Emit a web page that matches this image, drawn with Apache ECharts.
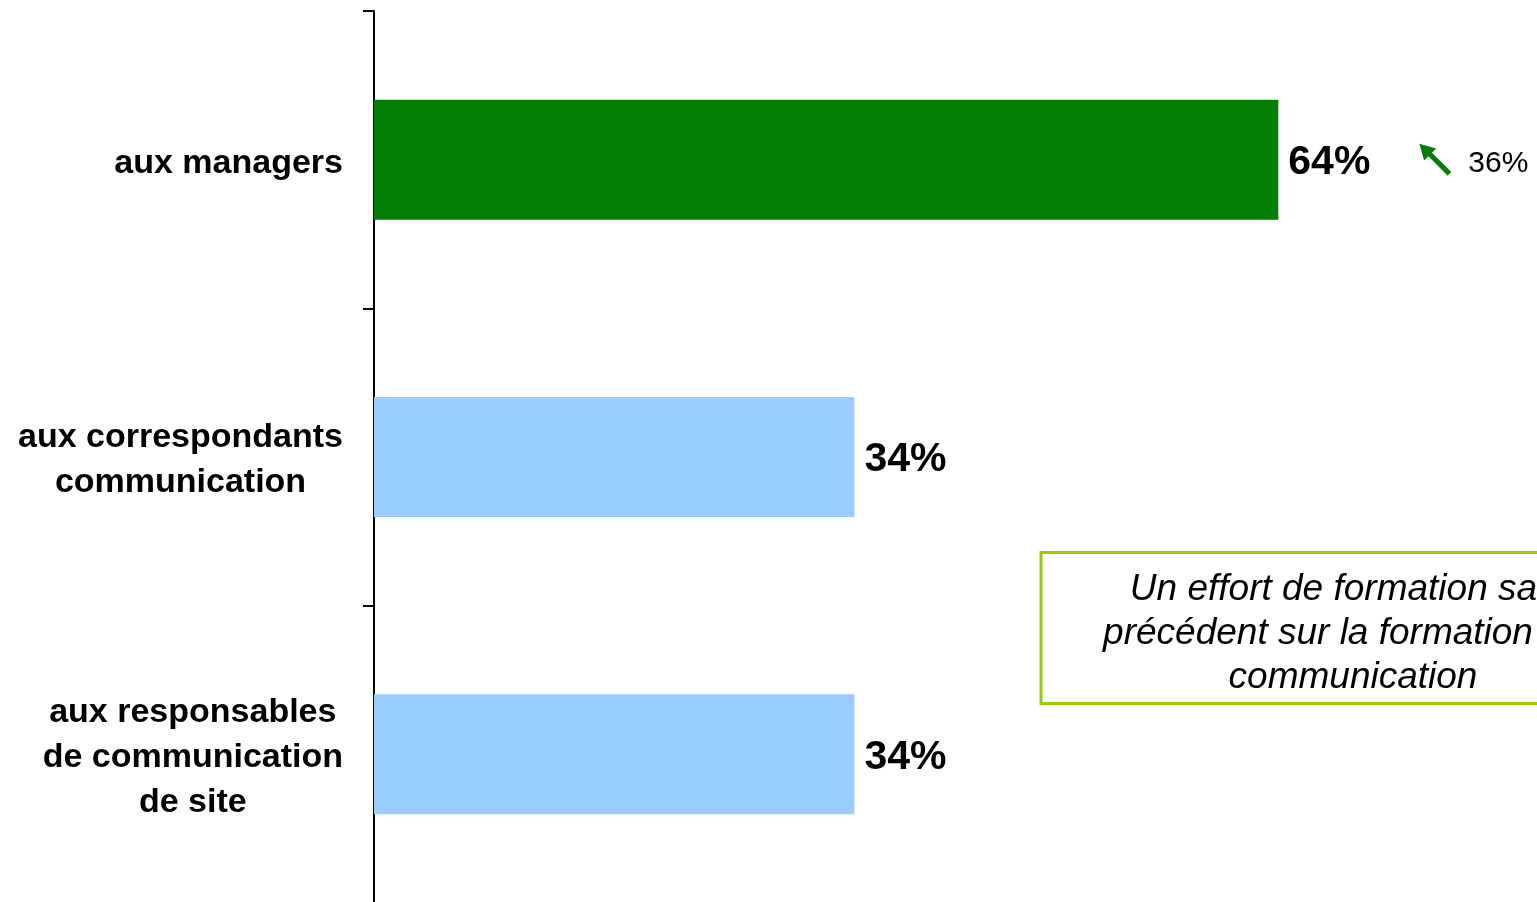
<!DOCTYPE html>
<html>
<head>
<meta charset="utf-8">
<script src="https://cdn.jsdelivr.net/npm/echarts@6/dist/echarts.min.js"></script>
<style>
html,body{margin:0;padding:0;background:#fff;}
#chart{width:1537px;height:902px;}
</style>
</head>
<body>
<div id="chart"></div>
<script>
var categories = ['aux managers', 'aux correspondants\ncommunication', 'aux responsables\nde communication\nde site'];
var values = [64, 34, 34];
var prevValues = [36, null, null];
var barColors = ['#038003', '#99CCFF', '#99CCFF'];
var noteText = 'Un effort de formation sans\nprécédent sur la formation à la\ncommunication';

var FONT = '"Liberation Sans", Arial, sans-serif';
var chart = echarts.init(document.getElementById('chart'), null, {renderer: 'canvas'});

var arrowPath = 'path://M0 0 L56 16 L42 30 L106 94 L94 106 L30 42 L16 56 Z';

var barData = values.map(function (v, i) {
  return {value: v, itemStyle: {color: barColors[i]}};
});

var markData = [];
prevValues.forEach(function (p, i) {
  if (p != null) {
    markData.push({coord: [values[i], categories[i]], value: p});
  }
});

chart.setOption({
  animation: false,
  backgroundColor: '#ffffff',
  grid: {left: 374, top: 11, width: 1413, height: 892, containLabel: false, outerBoundsMode: 'none'},
  xAxis: {type: 'value', min: 0, max: 100, show: false},
  yAxis: {
    type: 'category',
    data: categories,
    inverse: true,
    axisLine: {show: true, lineStyle: {color: '#000', width: 2}},
    axisTick: {show: true, length: 11, lineStyle: {color: '#000', width: 2}},
    splitLine: {show: false},
    axisLabel: {
      margin: 31,
      align: 'right',
      padding: [7, 0, 0, 0],
      formatter: function (val) {
        return val.split('\n').map(function (l) { return '{c|' + l + '}'; }).join('\n');
      },
      rich: {
        c: {align: 'center', fontSize: 34, fontWeight: 'bold', fontFamily: FONT, color: '#000', lineHeight: 45}
      }
    }
  },
  series: [{
    type: 'bar',
    data: barData,
    barWidth: 120,
    label: {
      show: true,
      position: 'right',
      distance: 10,
      offset: [0, 3],
      formatter: '{c}%',
      fontSize: 41,
      fontWeight: 'bold',
      fontFamily: FONT,
      color: '#000'
    },
    markPoint: {
      symbol: arrowPath,
      symbolSize: [32, 32],
      symbolOffset: [157, 0],
      itemStyle: {color: '#038003'},
      label: {
        show: true,
        position: 'right',
        distance: 17,
        offset: [0, 4],
        formatter: '{c}%',
        fontSize: 30,
        fontFamily: FONT,
        color: '#000'
      },
      data: markData
    }
  }],
  graphic: [{
    type: 'group',
    children: [{
      type: 'rect',
      shape: {x: 1041, y: 552.5, width: 624, height: 151},
      style: {fill: '#ffffff', stroke: '#99CC00', lineWidth: 3}
    }, {
      type: 'text',
      x: 1353,
      y: 634,
      style: {
        text: noteText,
        fontSize: 37,
        fontStyle: 'italic',
        fontFamily: FONT,
        fill: '#000',
        align: 'center',
        verticalAlign: 'middle',
        lineHeight: 44
      }
    }]
  }]
});
</script>
</body>
</html>
